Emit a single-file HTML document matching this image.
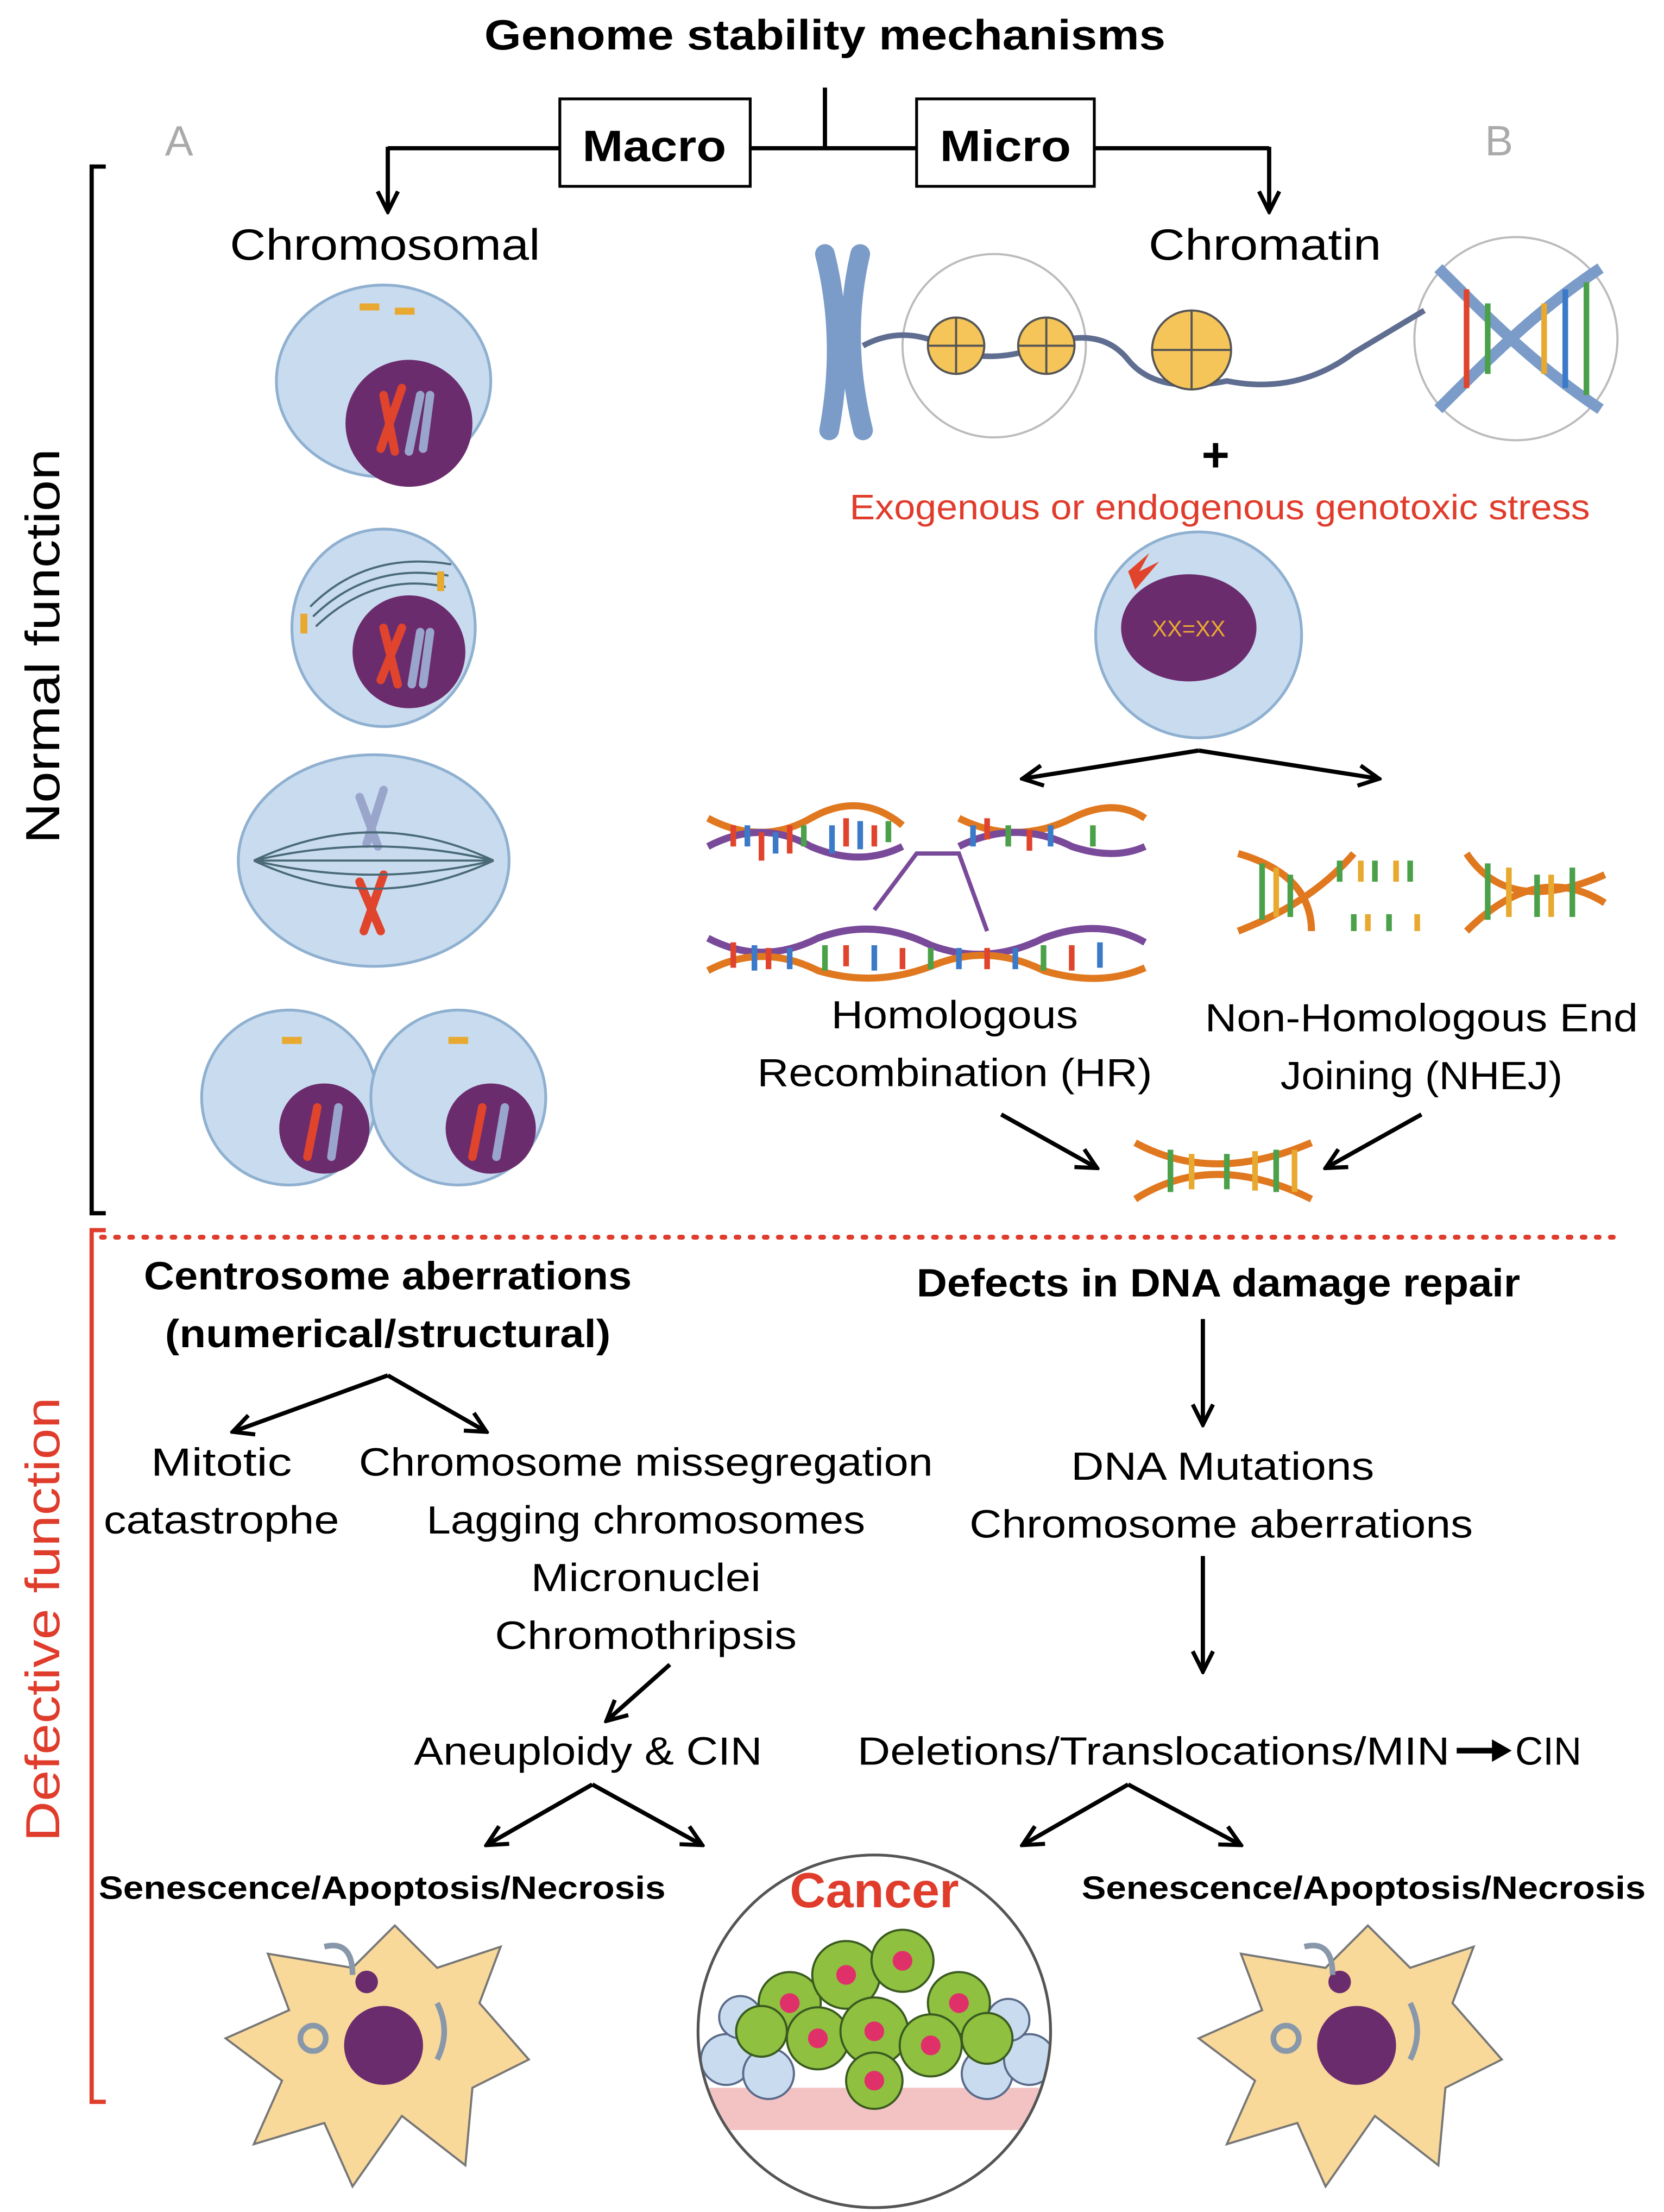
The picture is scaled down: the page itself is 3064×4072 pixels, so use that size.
<!DOCTYPE html>
<html><head><meta charset="utf-8"><style>
html,body{margin:0;padding:0;background:#fff}
svg{display:block}
text{font-family:"Liberation Sans","DejaVu Sans",sans-serif}
</style></head><body>
<svg width="3064" height="4072" viewBox="0 0 1180 1568" xmlns="http://www.w3.org/2000/svg">
<defs>
<marker id="a" viewBox="0 0 10 10" refX="9" refY="5" markerWidth="6" markerHeight="6" orient="auto"><path d="M1,1 L9,5 L1,9" fill="none" stroke="#000" stroke-width="1.6"/></marker>
</defs>
<text x="585" y="35" font-size="30" font-weight="bold" text-anchor="middle" textLength="483" lengthAdjust="spacingAndGlyphs">Genome stability mechanisms</text>
<g stroke="#000" stroke-width="3" fill="none">
<line x1="585" y1="62" x2="585" y2="105"/>
<line x1="275" y1="105" x2="900" y2="105"/>
<line x1="275" y1="104" x2="275" y2="150" marker-end="url(#a)"/>
<line x1="900" y1="104" x2="900" y2="150" marker-end="url(#a)"/>
</g>
<rect x="397" y="70" width="135" height="62" fill="#fff" stroke="#000" stroke-width="2"/>
<rect x="650" y="70" width="126" height="62" fill="#fff" stroke="#000" stroke-width="2"/>
<text x="464" y="114" font-size="31" font-weight="bold" text-anchor="middle" textLength="102" lengthAdjust="spacingAndGlyphs">Macro</text>
<text x="713" y="114" font-size="31" font-weight="bold" text-anchor="middle" textLength="93" lengthAdjust="spacingAndGlyphs">Micro</text>
<text x="127" y="110" font-size="30" fill="#aaa" text-anchor="middle">A</text>
<text x="1063" y="110" font-size="30" fill="#aaa" text-anchor="middle">B</text>
<text x="273" y="184" font-size="31" text-anchor="middle" textLength="220" lengthAdjust="spacingAndGlyphs">Chromosomal</text>
<text x="897" y="184" font-size="31" text-anchor="middle" textLength="165" lengthAdjust="spacingAndGlyphs">Chromatin</text>
<path d="M75,118 L65,118 L65,860 L75,860" stroke="#000" stroke-width="3" fill="none"/>
<text transform="translate(42,458) rotate(-90)" font-size="34" text-anchor="middle" textLength="280" lengthAdjust="spacingAndGlyphs">Normal function</text>

<g stroke="#8fb0d0" stroke-width="2" fill="#c9dcef">
<ellipse cx="272" cy="270" rx="76" ry="68"/>
<ellipse cx="272" cy="445" rx="65" ry="70"/>
<ellipse cx="265" cy="610" rx="96" ry="75"/>
<circle cx="205" cy="778" r="62"/>
<circle cx="325" cy="778" r="62"/>
</g>
<g fill="#6b2c6e">
<circle cx="290" cy="300" r="45"/>
<circle cx="290" cy="462" r="40"/>
<circle cx="230" cy="800" r="32"/>
<circle cx="348" cy="800" r="32"/>
</g>
<g stroke-width="6" stroke-linecap="round" fill="none">
<path d="M272,280 L280,320 M285,275 L270,318" stroke="#e0442c"/>
<path d="M298,280 L290,320 M305,280 L300,318" stroke="#9aa5cc"/>
<path d="M272,445 L282,485 M285,445 L270,482" stroke="#e0442c"/>
<path d="M298,448 L292,485 M305,448 L300,485" stroke="#9aa5cc"/>
<path d="M255,625 L270,660 M272,620 L258,660" stroke="#e0442c"/>
<path d="M255,565 L268,600 M272,560 L260,598" stroke="#9aa5cc"/>
<path d="M225,785 L218,820" stroke="#e0442c"/><path d="M240,785 L235,820" stroke="#9aa5cc"/>
<path d="M342,785 L335,820" stroke="#e0442c"/><path d="M358,785 L352,820" stroke="#9aa5cc"/>
</g>
<g stroke="#4a6a78" stroke-width="1.5" fill="none">
<path d="M220,430 Q260,390 320,400 M222,437 Q262,398 318,408 M224,444 Q265,405 316,416"/>
<path d="M180,610 Q265,570 350,610 M180,610 Q265,650 350,610 M180,610 L350,610 M180,610 Q265,590 350,610 M180,610 Q265,630 350,610"/>
</g>
<g fill="#e8a930"><rect x="255" y="215" width="14" height="5"/><rect x="280" y="218" width="14" height="5"/><rect x="310" y="405" width="5" height="14"/><rect x="213" y="435" width="5" height="14"/><rect x="200" y="735" width="14" height="5"/><rect x="318" y="735" width="14" height="5"/></g>

<path d="M585,180 Q600,240 588,305 M610,180 Q596,240 612,305" stroke="#7b9cc8" stroke-width="14" fill="none" stroke-linecap="round"/>
<circle cx="705" cy="245" r="65" fill="#fff" stroke="#bbb" stroke-width="1.5"/>
<circle cx="1075" cy="240" r="72" fill="#fff" stroke="#bbb" stroke-width="1.5"/>
<path d="M612,245 Q640,230 670,245 T740,245 T800,255 T870,270 Q920,280 960,250 L1010,220" stroke="#5f6d90" stroke-width="4" fill="none"/>
<g fill="#f5c55a" stroke="#555" stroke-width="1.5">
<circle cx="678" cy="245" r="20"/><circle cx="742" cy="245" r="20"/><circle cx="845" cy="248" r="28"/></g>
<g stroke="#555" stroke-width="1.5"><line x1="658" y1="245" x2="698" y2="245"/><line x1="678" y1="225" x2="678" y2="265"/><line x1="722" y1="245" x2="762" y2="245"/><line x1="742" y1="225" x2="742" y2="265"/><line x1="817" y1="248" x2="873" y2="248"/><line x1="845" y1="220" x2="845" y2="276"/></g>
<g stroke-width="8" fill="none"><path d="M1020,190 C1060,230 1090,260 1135,290" stroke="#7b9cc8"/><path d="M1020,290 C1060,250 1090,220 1135,190" stroke="#7b9cc8"/></g>
<g stroke-width="4"><line x1="1040" y1="205" x2="1040" y2="275" stroke="#e0442c"/><line x1="1055" y1="215" x2="1055" y2="265" stroke="#4aa14a"/><line x1="1095" y1="215" x2="1095" y2="265" stroke="#e8a930"/><line x1="1110" y1="205" x2="1110" y2="275" stroke="#3b7ac8"/><line x1="1125" y1="200" x2="1125" y2="280" stroke="#4aa14a"/></g>
<text x="862" y="334" font-size="34" font-weight="bold" text-anchor="middle">+</text>
<text x="865" y="368" font-size="25" fill="#e03c2c" text-anchor="middle" textLength="525" lengthAdjust="spacingAndGlyphs">Exogenous or endogenous genotoxic stress</text>
<circle cx="850" cy="450" r="73" fill="#c9dcef" stroke="#8fb0d0" stroke-width="2"/>
<ellipse cx="843" cy="445" rx="48" ry="38" fill="#6b2c6e"/>
<path d="M800,405 L815,392 L808,405 L822,398 L805,418 Z" fill="#e0442c"/>
<text x="843" y="451" font-size="16" fill="#e8a930" text-anchor="middle">XX=XX</text>
<g stroke="#000" stroke-width="3" fill="none">
<path d="M850,532 L725,552" marker-end="url(#a)"/><path d="M850,532 L978,552" marker-end="url(#a)"/>
</g>
<g fill="none" stroke-width="5">
<path d="M502,580 Q540,600 575,580 Q610,560 640,585 M680,580 Q720,600 760,580 Q790,565 812,580" stroke="#e07820"/>
<path d="M502,600 Q540,580 575,600 Q610,615 640,600 M680,600 Q720,580 760,600 Q790,610 812,600" stroke="#7a4a9a"/>
<path d="M502,665 Q540,685 580,665 Q620,650 660,670 Q700,685 740,665 Q780,650 812,668" stroke="#7a4a9a"/>
<path d="M502,688 Q540,668 580,688 Q620,700 660,685 Q700,668 740,688 Q780,700 812,686" stroke="#e07820"/>
<path d="M620,645 L650,605 L680,605 L700,660" stroke="#7a4a9a" stroke-width="3"/>
<path d="M878,605 Q930,620 930,660 M1040,605 Q1070,650 1138,620 M878,660 Q930,640 960,605 M1040,660 Q1090,610 1138,640" stroke="#e07820"/>
<path d="M805,810 Q860,840 930,810 M805,850 Q860,815 930,850" stroke="#e07820"/>
</g>
<g stroke-width="4">
<path d="M520,585 v15 M540,590 v20 M560,585 v20 M600,580 v20 M620,585 v15 M700,580 v15 M730,588 v15 M520,668 v18 M545,672 v15 M600,670 v15 M640,672 v15 M700,672 v15 M760,670 v18" stroke="#e0442c"/>
<path d="M530,585 v15 M550,590 v15 M590,585 v20 M610,582 v20 M690,585 v15 M745,585 v15 M535,670 v18 M560,672 v15 M620,670 v18 M680,672 v15 M720,672 v15 M780,668 v18" stroke="#3b7ac8"/>
<path d="M570,585 v15 M630,582 v15 M715,585 v15 M775,585 v15 M585,670 v18 M660,672 v15 M740,670 v18 M895,612 v40 M915,620 v30 M950,610 v15 M975,610 v15 M1000,610 v15 M960,648 v12 M985,648 v12 M1055,612 v40 M1090,620 v30 M1115,615 v35 M830,815 v30 M870,818 v25 M905,815 v30" stroke="#4aa14a"/>
<path d="M905,615 v35 M965,610 v15 M990,610 v15 M970,648 v12 M1005,648 v12 M1070,615 v35 M1100,620 v30 M845,818 v25 M890,816 v28 M918,815 v30" stroke="#e8a930"/>
</g>
<g font-size="28" text-anchor="middle">
<text x="677" y="729" textLength="175" lengthAdjust="spacingAndGlyphs">Homologous</text>
<text x="677" y="770" textLength="280" lengthAdjust="spacingAndGlyphs">Recombination (HR)</text>
<text x="1008" y="731" textLength="307" lengthAdjust="spacingAndGlyphs">Non-Homologous End</text>
<text x="1008" y="772" textLength="200" lengthAdjust="spacingAndGlyphs">Joining (NHEJ)</text>
</g>
<g stroke="#000" stroke-width="3" fill="none">
<path d="M710,790 L778,828" marker-end="url(#a)"/><path d="M1008,790 L940,828" marker-end="url(#a)"/>
</g>
<line x1="72" y1="877" x2="1145" y2="877" stroke="#e03c2c" stroke-width="3.5" stroke-dasharray="2,8" stroke-linecap="round"/>
<path d="M75,872 L65,872 L65,1490 L75,1490" stroke="#e03c2c" stroke-width="3" fill="none"/>
<text transform="translate(42,1148) rotate(-90)" font-size="34" fill="#e03c2c" text-anchor="middle" textLength="315" lengthAdjust="spacingAndGlyphs">Defective function</text>

<g font-size="28" text-anchor="middle">
<text x="275" y="914" font-weight="bold" textLength="346" lengthAdjust="spacingAndGlyphs">Centrosome aberrations</text>
<text x="275" y="955" font-weight="bold" textLength="316" lengthAdjust="spacingAndGlyphs">(numerical/structural)</text>
<text x="157" y="1046" textLength="100" lengthAdjust="spacingAndGlyphs">Mitotic</text>
<text x="157" y="1087" textLength="167" lengthAdjust="spacingAndGlyphs">catastrophe</text>
<text x="458" y="1046" textLength="407" lengthAdjust="spacingAndGlyphs">Chromosome missegregation</text>
<text x="458" y="1087" textLength="311" lengthAdjust="spacingAndGlyphs">Lagging chromosomes</text>
<text x="458" y="1128" textLength="163" lengthAdjust="spacingAndGlyphs">Micronuclei</text>
<text x="458" y="1169" textLength="214" lengthAdjust="spacingAndGlyphs">Chromothripsis</text>
<text x="417" y="1251" textLength="247" lengthAdjust="spacingAndGlyphs">Aneuploidy &amp; CIN</text>
<text x="864" y="919" font-weight="bold" textLength="428" lengthAdjust="spacingAndGlyphs">Defects in DNA damage repair</text>
<text x="867" y="1049" textLength="215" lengthAdjust="spacingAndGlyphs">DNA Mutations</text>
<text x="866" y="1090" textLength="357" lengthAdjust="spacingAndGlyphs">Chromosome aberrations</text>
<text x="818" y="1251" textLength="420" lengthAdjust="spacingAndGlyphs">Deletions/Translocations/MIN</text>
<text x="1098" y="1251" textLength="47" lengthAdjust="spacingAndGlyphs">CIN</text>
</g>
<g stroke="#000" stroke-width="3" fill="none">
<path d="M275,975 L165,1015" marker-end="url(#a)"/><path d="M275,975 L345,1015" marker-end="url(#a)"/>
<path d="M475,1180 L430,1220" marker-end="url(#a)"/>
<path d="M420,1265 L345,1308" marker-end="url(#a)"/><path d="M420,1265 L498,1308" marker-end="url(#a)"/>
<path d="M853,935 L853,1010" marker-end="url(#a)"/>
<path d="M853,1103 L853,1185" marker-end="url(#a)"/>
<path d="M800,1265 L725,1308" marker-end="url(#a)"/><path d="M800,1265 L880,1308" marker-end="url(#a)"/>
</g>
<path d="M1033,1241 L1060,1241" stroke="#000" stroke-width="4"/><path d="M1058,1233 L1072,1241 L1058,1249 Z" fill="#000"/>
<g font-size="23" font-weight="bold" text-anchor="middle">
<text x="271" y="1346" textLength="402" lengthAdjust="spacingAndGlyphs">Senescence/Apoptosis/Necrosis</text>
<text x="967" y="1346" textLength="400" lengthAdjust="spacingAndGlyphs">Senescence/Apoptosis/Necrosis</text>
</g>
<circle cx="620" cy="1440" r="125" fill="#fff" stroke="#555" stroke-width="2"/>
<clipPath id="cc"><circle cx="620" cy="1440" r="124"/></clipPath>
<g clip-path="url(#cc)">
<rect x="495" y="1480" width="250" height="30" fill="#f3c3c3"/>
<g fill="#c9dcef" stroke="#5a6a8a" stroke-width="1.5">
<circle cx="515" cy="1460" r="18"/><circle cx="545" cy="1470" r="18"/><circle cx="700" cy="1470" r="18"/><circle cx="730" cy="1460" r="18"/><circle cx="525" cy="1430" r="15"/><circle cx="715" cy="1432" r="15"/></g>
<g fill="#8fc040" stroke="#3a5a20" stroke-width="1.5">
<circle cx="560" cy="1420" r="22"/><circle cx="600" cy="1400" r="24"/><circle cx="640" cy="1390" r="22"/><circle cx="680" cy="1420" r="22"/><circle cx="580" cy="1445" r="22"/><circle cx="620" cy="1440" r="24"/><circle cx="660" cy="1450" r="22"/><circle cx="620" cy="1475" r="20"/><circle cx="540" cy="1440" r="18"/><circle cx="700" cy="1445" r="18"/></g>
<g fill="#e0306a"><circle cx="560" cy="1420" r="7"/><circle cx="600" cy="1400" r="7"/><circle cx="640" cy="1390" r="7"/><circle cx="680" cy="1420" r="7"/><circle cx="580" cy="1445" r="7"/><circle cx="620" cy="1440" r="7"/><circle cx="660" cy="1450" r="7"/><circle cx="620" cy="1475" r="7"/></g>
</g>
<text x="620" y="1352" font-size="35" font-weight="bold" fill="#e03c2c" text-anchor="middle" textLength="120" lengthAdjust="spacingAndGlyphs">Cancer</text>
<g fill="#f9d99a" stroke="#777" stroke-width="1.5">
<path d="M190,1385 L250,1395 L280,1365 L310,1395 L355,1380 L340,1420 L375,1460 L335,1480 L330,1535 L285,1500 L250,1550 L230,1505 L180,1520 L200,1475 L160,1445 L205,1425 Z"/>
<path d="M880,1385 L940,1395 L970,1365 L1000,1395 L1045,1380 L1030,1420 L1065,1460 L1025,1480 L1020,1535 L975,1500 L940,1550 L920,1505 L870,1520 L890,1475 L850,1445 L895,1425 Z"/>
</g>
<g fill="#6b2c6e"><circle cx="272" cy="1450" r="28"/><circle cx="962" cy="1450" r="28"/><circle cx="260" cy="1405" r="8"/><circle cx="950" cy="1405" r="8"/></g>
<g fill="none" stroke="#8898aa" stroke-width="4"><path d="M310,1420 q10,20 0,40 M230,1380 q20,-5 20,20 M925,1380 q20,-5 20,20 M1000,1420 q10,20 0,40"/><circle cx="222" cy="1445" r="9"/><circle cx="912" cy="1445" r="9"/></g>
</svg>
</body></html>
